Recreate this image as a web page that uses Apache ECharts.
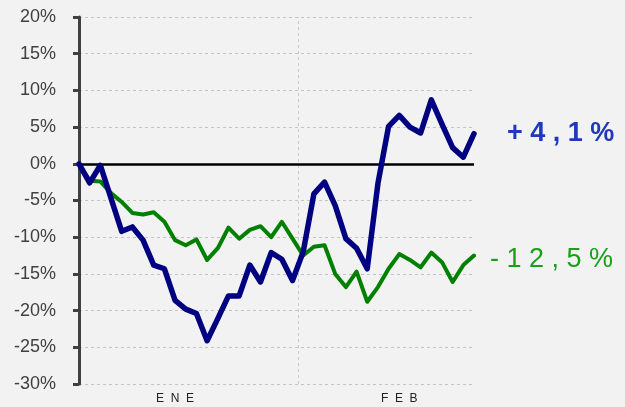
<!DOCTYPE html>
<html>
<head>
<meta charset="utf-8">
<script src="https://cdn.jsdelivr.net/npm/echarts@6/dist/echarts.min.js"></script>
<style>
  html, body { margin: 0; padding: 0; background: #f2f2f2; }
  #main { width: 625px; height: 407px; }
</style>
</head>
<body>
<div id="main"></div>
<script>
// mes de cada punto (sesiones diarias)
var categories = [
  'ENE','ENE','ENE','ENE','ENE','ENE','ENE','ENE','ENE','ENE','ENE',
  'ENE','ENE','ENE','ENE','ENE','ENE','ENE','ENE','ENE','ENE',
  'FEB','FEB','FEB','FEB','FEB','FEB','FEB','FEB','FEB','FEB','FEB',
  'FEB','FEB','FEB','FEB','FEB','FEB'
];

// variacion acumulada (%)
var serieAzul = [
  0, -2.6, -0.2, -4.7, -9.2, -8.6, -10.4, -13.8, -14.3, -18.6, -19.8,
  -20.4, -24.1, -21.1, -18.0, -18.0, -13.8, -16.1, -12.1, -13.0, -15.9,
  -12.0, -4.1, -2.5, -5.7, -10.2, -11.5, -14.3, -2.7, 5.1, 6.6,
  5.0, 4.2, 8.7, 5.4, 2.2, 0.9, 4.1
];
var serieVerde = [
  0, -2.3, -2.4, -4.0, -5.2, -6.7, -6.9, -6.6, -7.9, -10.4, -11.1,
  -10.3, -13.1, -11.5, -8.7, -10.2, -9.0, -8.5, -10.0, -7.9, -10.2,
  -12.5, -11.3, -11.1, -15.0, -16.8, -14.7, -18.8, -16.8, -14.3, -12.3,
  -13.1, -14.1, -12.1, -13.4, -16.1, -13.8, -12.5
];

var yMin = -30, yMax = 20, yStep = 5;

var fuente = 'Liberation Sans, Arial, sans-serif';
var cambioMes = categories.indexOf('FEB') - 0.5;

function etiquetaFinal(v) {
  var s = Math.abs(v).toFixed(1).replace('.', ',') + '%';
  return (v >= 0 ? '+' : '-') + ' ' + s.split('').join(' ');
}

var chart = echarts.init(document.getElementById('main'));

var option = {
  backgroundColor: '#f2f2f2',
  animation: false,
  textStyle: { fontFamily: fuente },
  grid: { left: 79, right: 151, top: 17, bottom: 23, containLabel: false },
  xAxis: [{
    type: 'category',
    data: categories,
    boundaryGap: false,
    axisLine: { show: false },
    axisTick: { show: false },
    splitLine: { show: false },
    axisLabel: {
      interval: function (i) { return i === 9 || i === 30; },
      formatter: function (v) { return v.split('').join('  '); },
      color: '#222',
      fontSize: 12,
      margin: 9,
      fontFamily: fuente
    }
  }, {
    type: 'value',
    min: 0,
    max: categories.length - 1,
    show: false
  }],
  yAxis: {
    type: 'value',
    min: yMin,
    max: yMax,
    interval: yStep,
    offset: 3,
    axisLine: { show: true, lineStyle: { color: '#404040', width: 3 } },
    axisTick: { show: true, length: 6, lineStyle: { color: '#404040', width: 3 } },
    axisLabel: {
      formatter: '{value}%',
      color: '#404040',
      fontSize: 18,
      margin: 20,
      fontFamily: fuente
    },
    splitLine: { show: true, lineStyle: { color: '#c4c4c4', type: [3, 3], width: 1 } }
  },
  series: [{
    type: 'line',
    xAxisIndex: 1,
    data: [[0, null]],
    showSymbol: false,
    z: 1,
    markLine: {
      silent: true,
      symbol: 'none',
      z: 1,
      label: { show: false },
      data: [
        { xAxis: cambioMes, lineStyle: { color: '#c8c8c8', type: [3, 3], width: 1 } },
        { yAxis: 0, lineStyle: { color: '#000', type: 'solid', width: 2.5 } }
      ]
    }
  }, {
    name: 'verde',
    type: 'line',
    data: serieVerde,
    showSymbol: false,
    z: 10,
    lineStyle: { color: '#008000', width: 4, join: 'round', cap: 'round' },
    itemStyle: { color: '#008000' },
    endLabel: {
      show: true,
      formatter: function (p) { return etiquetaFinal(p.value); },
      color: '#18a018',
      fontSize: 27,
      distance: 16,
      offset: [0, 4],
      fontFamily: fuente
    }
  }, {
    name: 'azul',
    type: 'line',
    data: serieAzul,
    showSymbol: false,
    z: 11,
    lineStyle: { color: '#000080', width: 5.5, join: 'round', cap: 'round' },
    itemStyle: { color: '#000080' },
    endLabel: {
      show: true,
      formatter: function (p) { return etiquetaFinal(p.value); },
      color: '#2038c0',
      fontSize: 27,
      fontWeight: 'bold',
      distance: 33,
      fontFamily: fuente
    }
  }]
};

chart.setOption(option);
</script>
</body>
</html>
